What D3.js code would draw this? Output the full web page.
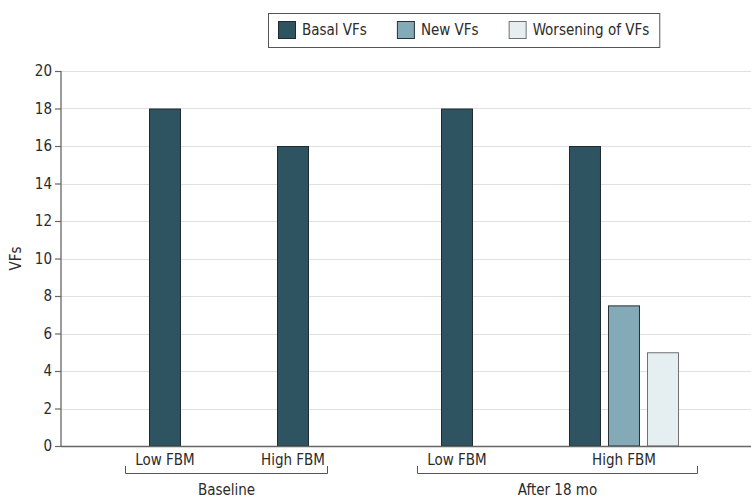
<!DOCTYPE html>
<html>
<head>
<meta charset="utf-8">
<script src="https://cdn.jsdelivr.net/npm/d3@7/dist/d3.min.js"></script>
<style>
  html, body { margin: 0; padding: 0; background: #fff; }
  svg text { font-family: "Liberation Sans Narrow", "DejaVu Sans Condensed", "Noto Sans", sans-serif; fill: #2b2b2b; }
</style>
</head>
<body>
<svg id="chart" width="751" height="498"></svg>
<script>
// ---- data ----
const periods = ["Baseline", "Baseline", "After 18 mo", "After 18 mo"];
const categories = ["Low FBM", "High FBM", "Low FBM", "High FBM"];
const seriesNames = ["Basal VFs", "New VFs", "Worsening of VFs"];
const basalVFs = [18, 16, 18, 16];
const newVFs = [null, null, null, 7.5];
const worseningVFs = [null, null, null, 5];
const yTicks = [0, 2, 4, 6, 8, 10, 12, 14, 16, 18, 20];

// ---- styles ----
const colors = ["#2e5361", "#84a9b7", "#e5eef1"];
const strokes = ["#1f2b30", "#263238", "#707070"];

const W = 751, H = 498;
const svg = d3.select("#chart");

const plotLeft = 61, plotRight = 751, plotTop = 71, plotBottom = 446;
const y = d3.scaleLinear().domain([0, 20]).range([plotBottom, plotTop]);

// ---- build slot layout (units: one bar slot = 1) ----
const seriesData = [basalVFs, newVFs, worseningVFs];
const catGap = 2.282, periodGap = 3.205;
const cats = categories.map((c, i) => ({
  period: periods[i], label: c,
  bars: seriesData.map((s, k) => ({ k, v: s[i] })).filter(b => b.v != null)
}));
let u = 0;
cats.forEach((c, i) => {
  if (i > 0) u += (c.period === cats[i - 1].period) ? catGap : periodGap;
  c.start = u;
  c.bars.forEach((b, j) => { b.u = u + j; });
  u += c.bars.length;
  c.end = u;
});
const totalUnits = u;
const x = d3.scaleLinear().domain([0, totalUnits]).range([145.5, 145.5 + totalUnits * 39]);
const barInset = 3.5 / 39;

// ---- grid ----
svg.append("g").selectAll("line")
  .data(yTicks.filter(t => t > 0))
  .join("line")
  .attr("x1", plotLeft).attr("x2", plotRight)
  .attr("y1", d => Math.round(y(d)) + 0.5).attr("y2", d => Math.round(y(d)) + 0.5)
  .attr("stroke", "#e0e0e0").attr("stroke-width", 1.2);

// ---- y axis ----
const yAxis = d3.axisLeft(y).tickValues(yTicks).tickSize(6).tickPadding(3);
const gy = svg.append("g").attr("transform", `translate(${plotLeft},0)`).call(yAxis);
gy.select(".domain").attr("stroke", "#666").attr("stroke-width", 1.3).attr("d", `M0,${plotTop}V${plotBottom}`);
gy.selectAll(".tick line").attr("stroke", "#666").attr("stroke-width", 1.2);
gy.selectAll(".tick text").style("font-size", "15px").attr("fill", "#2b2b2b");

svg.append("text")
  .attr("transform", `translate(21,${(plotTop + plotBottom) / 2}) rotate(-90)`)
  .attr("text-anchor", "middle")
  .style("font-size", "15px")
  .text("VFs");

// ---- bars ----
const allBars = cats.flatMap(c => c.bars);
svg.append("g").selectAll("rect")
  .data(allBars)
  .join("rect")
  .attr("x", d => x(d.u + barInset) + 0.5)
  .attr("width", d => x(d.u + 1 - barInset) - x(d.u + barInset) - 1)
  .attr("y", d => y(d.v) + 0.5)
  .attr("height", d => y(0) - y(d.v) - 0.5)
  .attr("fill", d => colors[d.k])
  .attr("stroke", d => strokes[d.k])
  .attr("stroke-width", 1);

// ---- x axis line ----
svg.append("line")
  .attr("x1", plotLeft).attr("x2", plotRight)
  .attr("y1", plotBottom + 0.5).attr("y2", plotBottom + 0.5)
  .attr("stroke", "#666").attr("stroke-width", 1.5);

// ---- category labels ----
svg.append("g").selectAll("text")
  .data(cats)
  .join("text")
  .attr("x", c => x((c.start + c.end) / 2))
  .attr("y", 465)
  .attr("text-anchor", "middle")
  .style("font-size", "15px")
  .text(c => c.label);

// ---- period brackets ----
const periodList = Array.from(new Set(periods));
const padL = 0.52, padR = 0.38;
periodList.forEach(p => {
  const cs = cats.filter(c => c.period === p);
  const x0 = Math.round(x(cs[0].start - padL)) + 0.5;
  const x1 = Math.round(x(cs[cs.length - 1].end + padR)) + 0.5;
  svg.append("path")
    .attr("d", `M${x0},466V473.5H${x1}V466`)
    .attr("fill", "none").attr("stroke", "#555").attr("stroke-width", 1);
  svg.append("text")
    .attr("x", (x0 + x1) / 2)
    .attr("y", 495)
    .attr("text-anchor", "middle")
    .style("font-size", "15px")
    .text(p);
});

// ---- legend ----
const legend = svg.append("g");
const sw = 18, swGap = 6, itemGap = 30, pad = 10;
let lx = 0;
const items = seriesNames.map((name, k) => {
  const g = legend.append("g");
  g.append("rect").attr("x", 0.5).attr("y", 0.5).attr("width", sw - 1).attr("height", sw - 1)
    .attr("fill", colors[k]).attr("stroke", strokes[k]).attr("stroke-width", 1);
  const t = g.append("text").attr("x", sw + swGap).attr("y", sw / 2).attr("dy", "0.35em")
    .style("font-size", "15px").text(name);
  const w = sw + swGap + t.node().getComputedTextLength();
  return { g, w };
});
items.forEach((it, i) => { it.x = lx; lx += it.w + (i < items.length - 1 ? itemGap : 0); });
const boxW = lx + pad * 2, boxH = 34;
const boxX = Math.round(464 - boxW / 2) + 0.5, boxY = 13.5;
legend.append("rect").lower()
  .attr("x", boxX).attr("y", boxY).attr("width", boxW).attr("height", boxH)
  .attr("fill", "#fff").attr("stroke", "#555").attr("stroke-width", 1);
items.forEach(it => it.g.attr("transform", `translate(${boxX - 0.5 + pad + it.x},${boxY - 0.5 + 8})`));
</script>
</body>
</html>
